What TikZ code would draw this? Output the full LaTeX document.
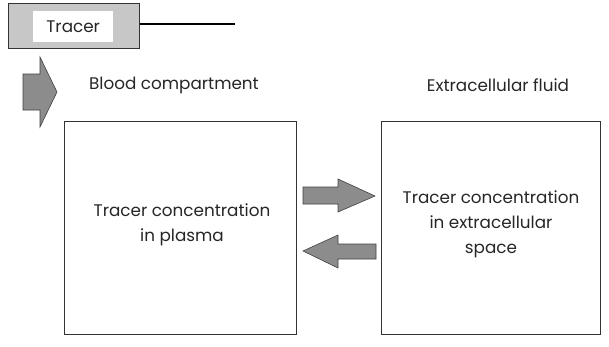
\documentclass[tikz,border=0pt]{standalone}
\usepackage{fontspec}
\setmainfont{Poppins}
\begin{document}
\begin{tikzpicture}[x=1pt,y=-1pt,
  box/.style={draw=black!80,line width=0.9pt},
  fatarrow/.style={draw=black!75,fill=black!45,line width=0.6pt,line join=miter},
  lbl/.style={font=\fontsize{16.8}{25}\selectfont,align=center,text=black!85}]
\useasboundingbox (0,0) rectangle (609,346);
\node[box,fill=black!22,minimum width=131pt,minimum height=45pt,inner sep=0pt,anchor=north west] (tracerbox) at (8,3) {};
\node[fill=white,minimum width=80pt,minimum height=31pt,inner sep=0pt,lbl,anchor=north west] (tracer) at (33,11) {Tracer};
\coordinate (lineend) at (235,24);
\draw[line width=1.2pt] (tracerbox.east |- lineend) -- (lineend);
% big down-right arrow
\draw[fatarrow] (23,74) -- (40,74) -- (40,57) -- (57,92) -- (40,127) -- (40,110) -- (23,110) -- cycle;
\node[lbl] (blood) at (174,85) {Blood compartment};
\node[lbl] (ecf) at (498,85) {Extracellular fluid};
\node[box,minimum width=232pt,minimum height=213pt,inner sep=0pt,anchor=north west] (plasma) at (64,121) {};
\node[lbl] (plasmatext) at (182,225) {Tracer concentration\\in plasma};
\node[box,minimum width=219pt,minimum height=213pt,inner sep=0pt,anchor=north west] (space) at (381,121) {};
\node[lbl] (spacetext) at (491,224) {Tracer concentration\\in extracellular\\space};
% exchange arrows
\draw[fatarrow] (303,187) -- (338,187) -- (338,179) -- (375,196) -- (338,212) -- (338,204) -- (303,204) -- cycle;
\draw[fatarrow] (376,244) -- (338,244) -- (338,235) -- (303,251) -- (338,268) -- (338,259) -- (376,259) -- cycle;
\end{tikzpicture}
\end{document}
